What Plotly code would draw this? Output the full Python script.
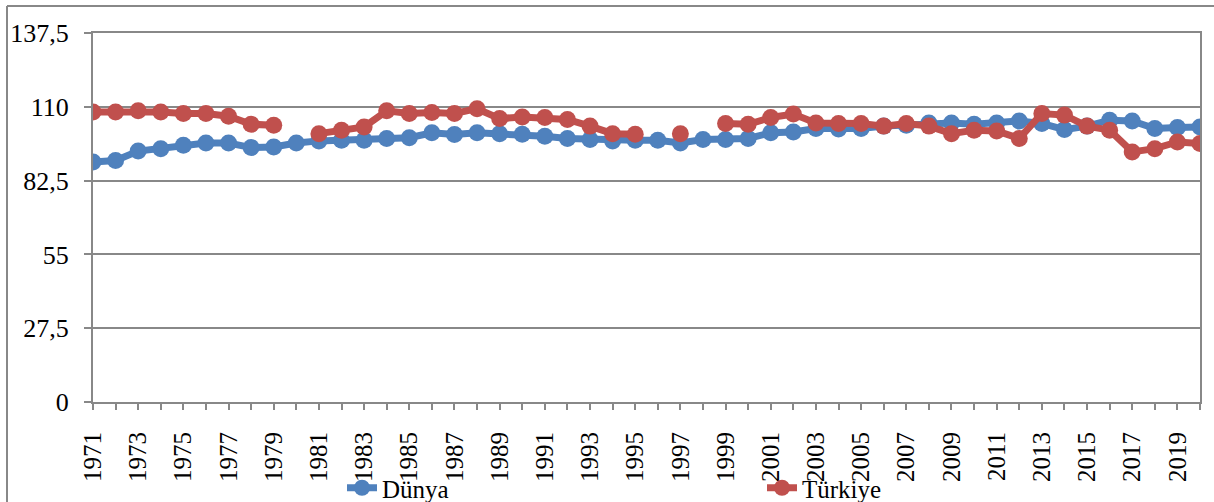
import plotly.graph_objects as go

years = list(range(1971, 2021))
dunya = [89.4, 90.0, 93.5, 94.4, 95.7, 96.5, 96.5, 94.8, 95.0, 96.5,
         97.3, 97.5, 97.5, 98.2, 98.5, 100.3, 99.7, 100.3, 100.0, 99.8,
         99.0, 98.2, 97.8, 97.3, 97.5, 97.5, 96.5, 97.8, 97.8, 98.2,
         100.3, 100.6, 101.9, 101.7, 101.9, 102.8, 103.1, 104.0, 104.0, 103.5,
         104.0, 104.7, 103.8, 101.5, 102.8, 105.0, 104.7, 101.9, 102.3, 102.5]
turkiye = [108.1, 108.1, 108.5, 108.1, 107.5, 107.5, 106.5, 103.5, 103.1, None,
           100.0, 101.3, 102.5, 108.5, 107.5, 107.9, 107.5, 109.3, 105.6, 106.2,
           106.0, 105.3, 102.8, 100.0, 99.8, None, 100.0, None, 103.8, 103.5,
           106.0, 107.3, 104.0, 103.8, 103.8, 102.8, 103.8, 102.8, 100.0, 101.3,
           101.0, 98.2, 107.5, 106.9, 102.8, 101.3, 93.2, 94.4, 96.9, 96.3]
y_ticks = [0, 27.5, 55, 82.5, 110, 137.5]
y_ticktext = ["0", "27,5", "55", "82,5", "110", "137,5"]
x_ticktext = [str(y) if y % 2 == 1 else "" for y in years]

BLUE = "#4F81BD"
RED = "#C0504D"
GRAY = "#888888"
FONT = "Liberation Serif, Times New Roman, serif"

fig = go.Figure()
fig.add_trace(go.Scatter(x=years, y=dunya, name="Dünya", mode="lines+markers",
                         line=dict(color=BLUE, width=7), marker=dict(color=BLUE, size=17)))
fig.add_trace(go.Scatter(x=years, y=turkiye, name="Türkiye", mode="lines+markers",
                         line=dict(color=RED, width=7), marker=dict(color=RED, size=17)))

L, R, T, B = 93, 14, 33, 100
W, H = 1214, 502
pw, ph = W - L - R, H - T - B

def px_x(px):
    return (px - L) / pw

def px_y(py):
    return (H - B - py) / ph

fig.update_layout(
    width=W, height=H,
    margin=dict(l=L, r=R, t=T, b=B, autoexpand=False),
    paper_bgcolor="white", plot_bgcolor="white",
    font=dict(family=FONT, size=24, color="black"),
    showlegend=True,
    legend=dict(orientation="h", x=px_x(342), xanchor="left", y=px_y(465), yanchor="top",
                entrywidth=375, entrywidthmode="pixels", font=dict(size=25, family=FONT, color="black"),
                bgcolor="rgba(0,0,0,0)"),
    xaxis=dict(range=[1971, 2020], tickvals=years, ticktext=x_ticktext, tickangle=-90,
               ticks="outside", ticklen=6, tickcolor=GRAY, tickwidth=2, automargin=False,
               showline=True, linecolor=GRAY, linewidth=2, mirror=True, ticklabelstandoff=12,
               showgrid=False, zeroline=False, tickfont=dict(size=25, family=FONT, color="black")),
    yaxis=dict(range=[0, 137.5], tickvals=y_ticks, ticktext=y_ticktext, automargin=False,
               ticks="outside", ticklen=7, tickcolor=GRAY, tickwidth=2,
               showline=True, linecolor=GRAY, linewidth=2, mirror=True,
               showgrid=True, gridcolor=GRAY, gridwidth=2, zeroline=False,
               ticklabelstandoff=10, tickfont=dict(size=26, family=FONT, color="black")),
    shapes=[
        dict(type="line", xref="paper", yref="paper", x0=px_x(7), x1=px_x(7),
             y0=px_y(510), y1=px_y(6), line=dict(color=GRAY, width=2), layer="below"),
        dict(type="line", xref="paper", yref="paper", x0=px_x(7), x1=px_x(1220),
             y0=px_y(6), y1=px_y(6), line=dict(color=GRAY, width=2), layer="below"),
    ],
)

fig.write_html("out.html", config={"displayModeBar": False})

# remove default page margin so the figure sits at the window's top-left corner
with open("out.html", "r", encoding="utf-8") as f:
    html = f.read()
html = html.replace("<body>", '<body style="margin:0;overflow:hidden">', 1)
with open("out.html", "w", encoding="utf-8") as f:
    f.write(html)
